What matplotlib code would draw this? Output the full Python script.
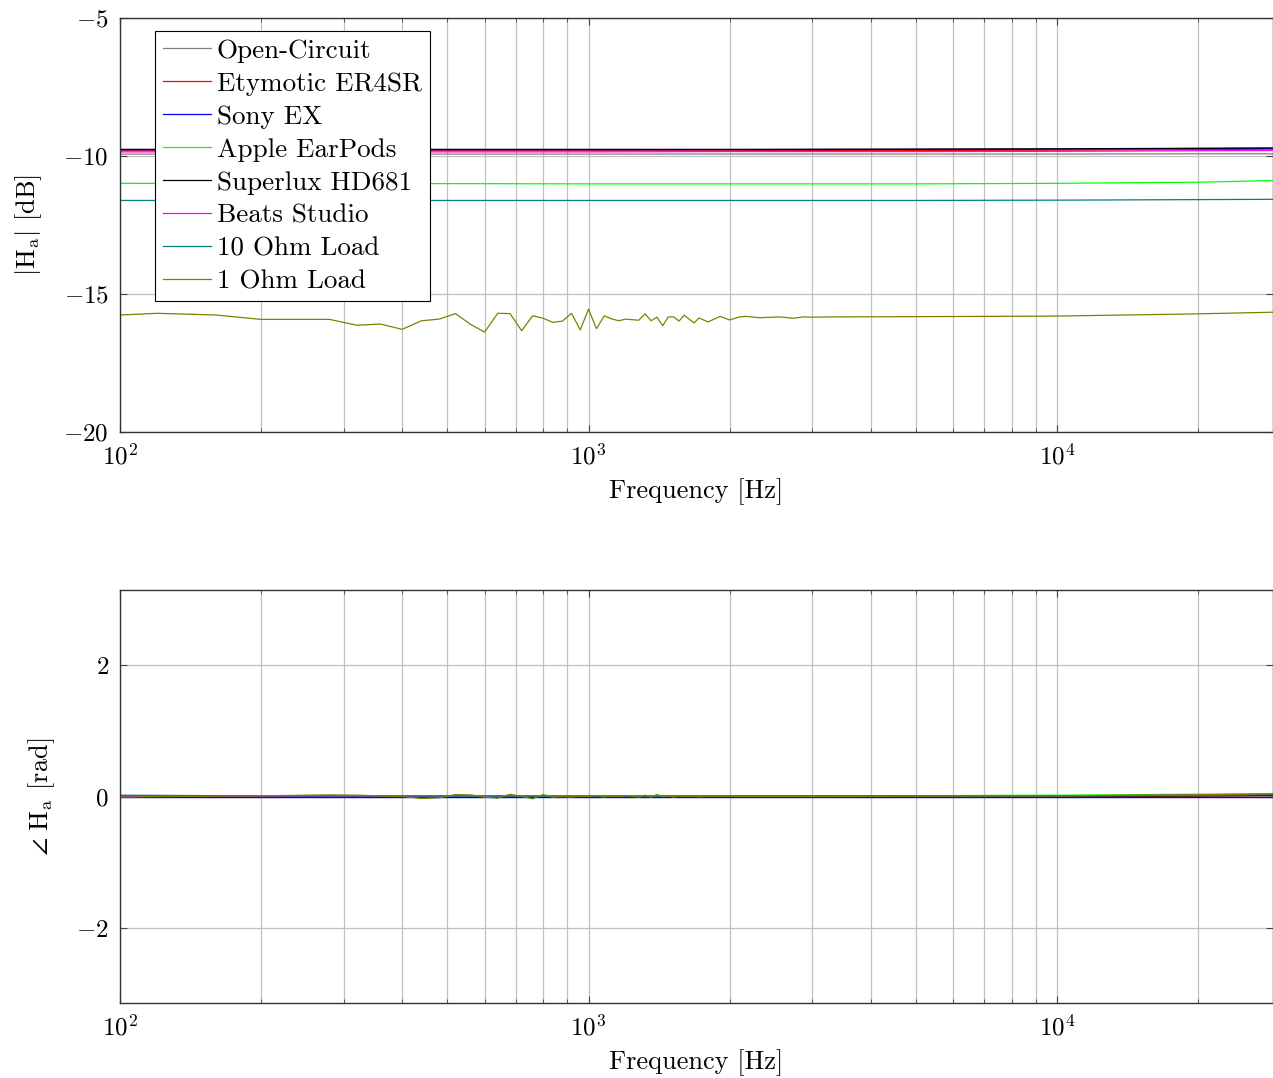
import numpy as np
import matplotlib
matplotlib.use('Agg')
import matplotlib.pyplot as plt

plt.rcParams['font.family'] = 'serif'
plt.rcParams['font.serif'] = ['cmr10', 'DejaVu Serif']
plt.rcParams['mathtext.fontset'] = 'cm'
plt.rcParams['axes.formatter.use_mathtext'] = True
plt.rcParams['font.size'] = 18

# Frequenzen der glatten Kurven
f_glatt = [100, 200, 500, 1000, 2000, 5000, 10000, 20000, 28900]

# Betrag |H_a| in dB
mag_open = [-9.93, -9.93, -9.93, -9.93, -9.93, -9.93, -9.93, -9.92, -9.92]
mag_ety = [-9.81, -9.81, -9.81, -9.81, -9.81, -9.80, -9.79, -9.77, -9.75]
mag_sony = [-9.77, -9.77, -9.77, -9.77, -9.77, -9.76, -9.75, -9.73, -9.72]
mag_apple = [-10.99, -11.0, -11.0, -11.01, -11.01, -11.01, -10.99, -10.95, -10.89]
mag_superlux = [-9.76, -9.76, -9.76, -9.76, -9.76, -9.75, -9.74, -9.72, -9.71]
mag_beats = [-9.85, -9.85, -9.85, -9.85, -9.84, -9.84, -9.83, -9.81, -9.80]
mag_10ohm = [-11.61, -11.61, -11.61, -11.61, -11.61, -11.61, -11.60, -11.58, -11.57]

# 1-Ohm-Last: verrauschte Kurve
f_1ohm = [100, 120, 160, 200, 280, 320, 360, 400, 440, 480, 520, 560, 600,
          640, 680, 720, 760, 800, 840, 880, 920, 960, 1000, 1040, 1080,
          1120, 1160, 1200, 1280, 1320, 1360, 1400, 1440, 1480, 1520, 1560,
          1600, 1680, 1720, 1800, 1910, 2000, 2100, 2170, 2320, 2560, 2740,
          2870, 3010, 3280, 5120, 10000, 19900, 28900]
mag_1ohm = [-15.76, -15.70, -15.76, -15.92, -15.92, -16.13, -16.09, -16.28,
            -15.97, -15.91, -15.71, -16.10, -16.38, -15.70, -15.71, -16.33,
            -15.79, -15.88, -16.03, -15.98, -15.70, -16.30, -15.55, -16.26,
            -15.79, -15.90, -15.97, -15.91, -15.95, -15.72, -15.97, -15.84,
            -16.15, -15.83, -15.83, -15.98, -15.77, -16.05, -15.87, -16.01,
            -15.81, -15.94, -15.83, -15.81, -15.86, -15.83, -15.88, -15.83,
            -15.84, -15.83, -15.82, -15.80, -15.72, -15.66]

# Phase in rad
ph_open = [0.0, 0.0, 0.0, 0.0, 0.0, 0.0, 0.0, 0.0, 0.0]
ph_ety = [0.005, 0.005, 0.004, 0.003, 0.003, 0.003, 0.004, 0.008, 0.012]
ph_sony = [0.0, 0.0, 0.0, 0.0, 0.0, 0.0, 0.0, 0.0, 0.0]
ph_apple = [0.01, 0.01, 0.005, 0.005, 0.008, 0.012, 0.02, 0.035, 0.045]
ph_superlux = [0.002, 0.002, 0.002, 0.002, 0.002, 0.003, 0.005, 0.01, 0.015]
ph_beats = [0.004, 0.004, 0.003, 0.003, 0.004, 0.006, 0.01, 0.02, 0.03]
ph_10ohm = [0.02, 0.01, 0.005, 0.003, 0.004, 0.006, 0.01, 0.02, 0.03]
ph_1ohm = [-0.01, 0.0, 0.005, 0.01, 0.025, 0.02, 0.01, 0.0, -0.03, -0.02,
           0.03, 0.025, -0.01, -0.025, 0.035, 0.0, -0.035, 0.03, -0.01, 0.0,
           -0.01, 0.01, 0.0, 0.015, -0.01, 0.01, 0.0, 0.015, -0.01, 0.02,
           -0.01, 0.03, 0.0, 0.01, -0.01, 0.01, 0.0, 0.01, -0.005, 0.005,
           0.0, 0.005, 0.0, 0.0, 0.0, 0.0, 0.0, 0.0, 0.0, 0.0, 0.005, 0.01,
           0.025, 0.04]

namen = ['Open-Circuit', 'Etymotic ER4SR', 'Sony EX', 'Apple EarPods',
         'Superlux HD681', 'Beats Studio', '10 Ohm Load', '1 Ohm Load']
farben = ['#808080', '#ff0000', '#0000ff', '#00ff00', '#000000', '#ff00ff',
          '#008080', '#808000']

kurven_mag = [(f_glatt, mag_open), (f_glatt, mag_ety), (f_glatt, mag_sony),
              (f_glatt, mag_apple), (f_glatt, mag_superlux),
              (f_glatt, mag_beats), (f_glatt, mag_10ohm), (f_1ohm, mag_1ohm)]
kurven_ph = [(f_glatt, ph_open), (f_glatt, ph_ety), (f_glatt, ph_sony),
             (f_glatt, ph_apple), (f_glatt, ph_superlux),
             (f_glatt, ph_beats), (f_glatt, ph_10ohm), (f_1ohm, ph_1ohm)]

B, H = 1273, 1078
fig = plt.figure(figsize=(B / 100, H / 100), dpi=100)
ax_oben = fig.add_axes([120 / B, 1 - 432 / H, 1 - 120 / B, 414 / H])
ax_unten = fig.add_axes([120 / B, 1 - 1003 / H, 1 - 120 / B, 413 / H])

for ax in (ax_oben, ax_unten):
    ax.set_xscale('log')
    ax.set_xlim(100, 28900)
    ax.grid(True, which='both', axis='x', color='#c0c0c0', lw=0.9)
    ax.grid(True, which='major', axis='y', color='#c0c0c0', lw=0.9)
    ax.set_axisbelow(True)
    ax.tick_params(which='both', direction='in', top=True, right=True,
                   labelsize=18, color='#444444')
    ax.tick_params(which='major', length=5, pad=8)
    ax.tick_params(which='minor', length=3)
    for s in ax.spines.values():
        s.set_linewidth(1.0)
        s.set_color('#333333')
    ax.set_xlabel('Frequency [Hz]', fontsize=19, labelpad=7)

for (f, y), name, c in zip(kurven_mag, namen, farben):
    ax_oben.plot(f, y, color=c, lw=0.9, label=name)
for (f, y), c in zip(kurven_ph, farben):
    ax_unten.plot(f, y, color=c, lw=0.9)

ax_oben.set_ylim(-20, -5)
ax_oben.set_yticks([-20, -15, -10, -5])
ax_oben.set_ylabel(r'$|\mathrm{H_a}|$ [dB]', fontsize=19, labelpad=14)

ax_unten.set_ylim(-np.pi, np.pi)
ax_unten.set_yticks([-2, 0, 2])
ax_unten.set_ylabel(r'$\angle\ \mathrm{H_a}$ [rad]', fontsize=19, labelpad=14)

leg = ax_oben.legend(loc='upper left', bbox_to_anchor=(0.030, 0.969),
                     borderaxespad=0, fancybox=False, framealpha=1,
                     edgecolor='black', fontsize=19.5, handlelength=1.8,
                     handletextpad=0.2, labelspacing=0.33, borderpad=0.3)
leg.get_frame().set_linewidth(0.8)

fig.savefig('out.png', dpi=100)
